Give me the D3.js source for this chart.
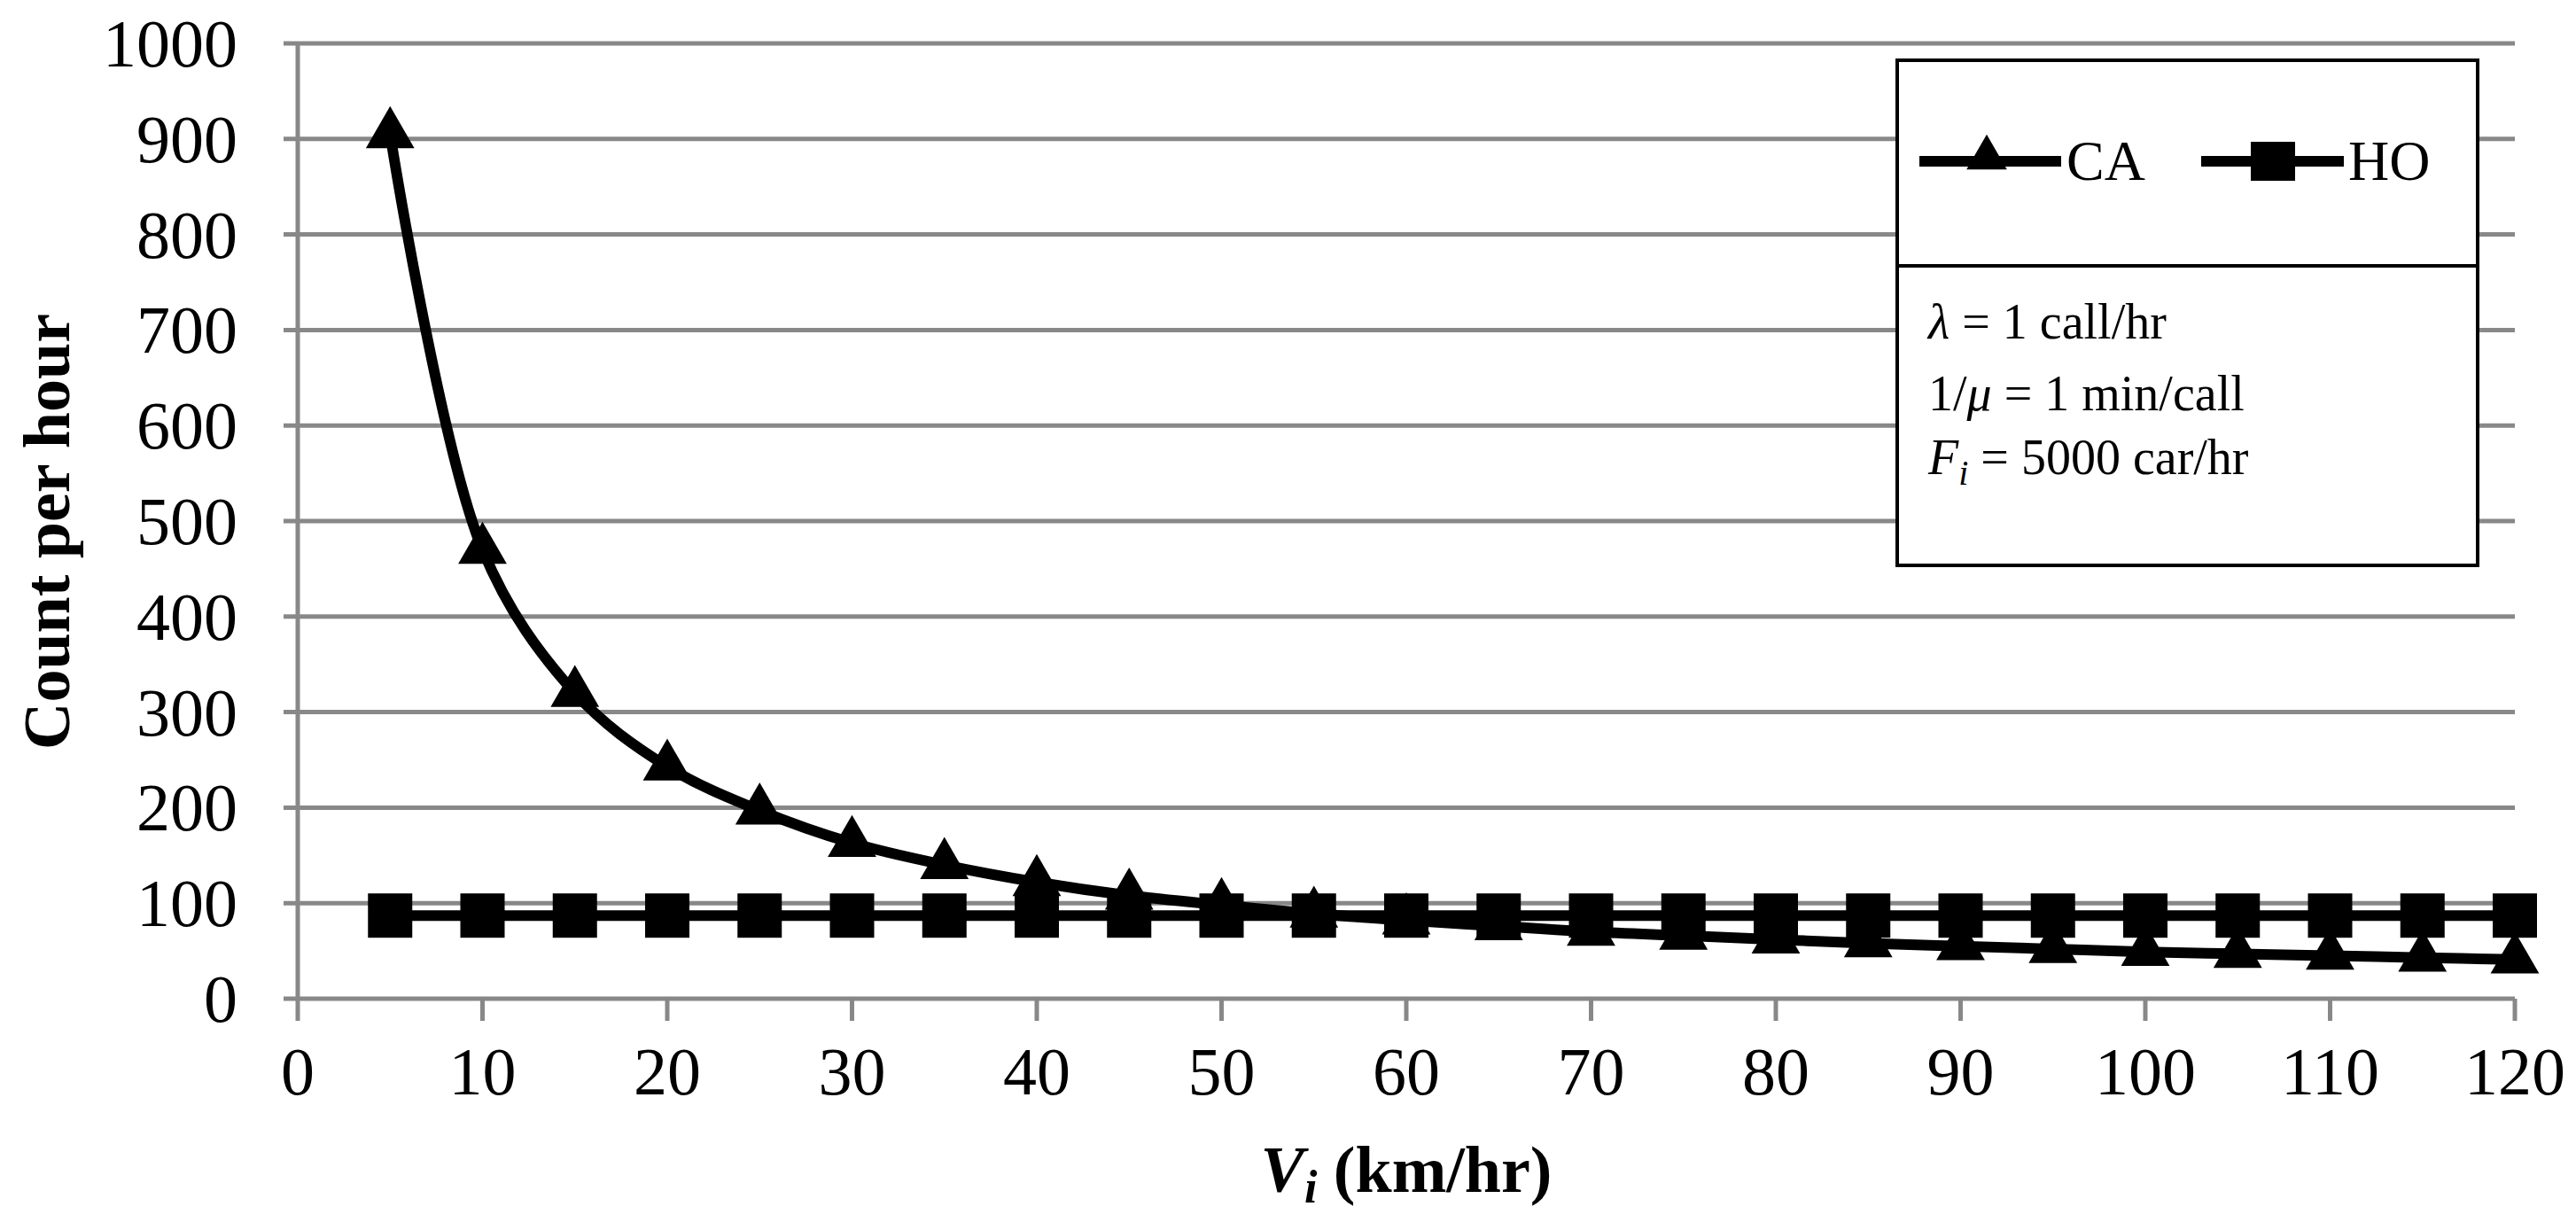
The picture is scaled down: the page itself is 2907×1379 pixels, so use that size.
<!DOCTYPE html>
<html><head><meta charset="utf-8">
<script src="https://cdn.jsdelivr.net/npm/d3@7"></script>
<style>body{margin:0;background:#fff}</style>
</head><body>
<svg id="chart" width="2907" height="1379"></svg>
<script>
const speeds = [5,10,15,20,25,30,35,40,45,50,55,60,65,70,75,80,85,90,95,100,105,110,115,120];
const caValues = [905,470,320,243,197,163,140,122,108,98,89,82,76,70,66,62,58,55,52,49,47,45,43,41];
const hoValues = speeds.map(() => 87);
const xTicks = d3.range(0, 121, 10);
const yTicks = d3.range(0, 1001, 100);

const svg = d3.select('#chart');
const x = d3.scaleLinear().domain([0, 120]).range([336, 2838]);
const y = d3.scaleLinear().domain([0, 1000]).range([1127, 49]);
const serif = 'Liberation Serif, Times New Roman, serif';
const grey = '#888';

// grid
svg.append('g').selectAll('line').data(yTicks).join('line')
  .attr('x1', x(0) - 16).attr('x2', x(120))
  .attr('y1', d => y(d)).attr('y2', d => y(d))
  .attr('stroke', grey).attr('stroke-width', 5);

// y axis line
svg.append('line').attr('x1', x(0)).attr('x2', x(0)).attr('y1', y(1000)).attr('y2', y(0))
  .attr('stroke', grey).attr('stroke-width', 5);

// x ticks
svg.append('g').selectAll('line').data(xTicks).join('line')
  .attr('x1', d => x(d)).attr('x2', d => x(d))
  .attr('y1', y(0)).attr('y2', y(0) + 25)
  .attr('stroke', grey).attr('stroke-width', 5);

svg.append('g').selectAll('text').data(xTicks).join('text')
  .attr('x', d => x(d)).attr('y', 1235)
  .attr('text-anchor', 'middle').attr('font-family', serif).attr('font-size', 76)
  .text(d => d);

svg.append('g').selectAll('text').data(yTicks).join('text')
  .attr('x', 268).attr('y', d => y(d) + 26)
  .attr('text-anchor', 'end').attr('font-family', serif).attr('font-size', 76)
  .text(d => d);

// axis titles
svg.append('text').attr('transform', 'translate(78,600) rotate(-90)')
  .attr('text-anchor', 'middle').attr('font-family', serif).attr('font-size', 74).attr('font-weight', 'bold')
  .text('Count per hour');
const xt = svg.append('text').attr('x', x(60)).attr('y', 1345)
  .attr('text-anchor', 'middle').attr('font-family', serif).attr('font-size', 74).attr('font-weight', 'bold');
xt.append('tspan').attr('font-style', 'italic').text('V');
xt.append('tspan').attr('font-style', 'italic').attr('font-size', 52).attr('dy', 12).text('i');
xt.append('tspan').attr('dy', -12).text(' (km/hr)');

// series
const line = d3.line().x(d => x(d[0])).y(d => y(d[1])).curve(d3.curveCatmullRom.alpha(0.5));
const ca = speeds.map((s, i) => [s, caValues[i]]);
const ho = speeds.map((s, i) => [s, hoValues[i]]);
const tri = d3.symbol().type(d3.symbolTriangle).size(1300);

svg.append('path').attr('d', line(ho)).attr('fill', 'none').attr('stroke', '#000').attr('stroke-width', 12);
svg.append('g').selectAll('rect').data(ho).join('rect')
  .attr('x', d => x(d[0]) - 25).attr('y', d => y(d[1]) - 25).attr('width', 50).attr('height', 50).attr('fill', '#000');
svg.append('path').attr('d', line(ca)).attr('fill', 'none').attr('stroke', '#000').attr('stroke-width', 12);
svg.append('g').selectAll('path').data(ca).join('path')
  .attr('transform', d => `translate(${x(d[0])},${y(d[1])})`).attr('d', tri).attr('fill', '#000');

// legend box
const lg = svg.append('g');
lg.append('rect').attr('x', 2141).attr('y', 68).attr('width', 655).attr('height', 570)
  .attr('fill', '#fff').attr('stroke', '#000').attr('stroke-width', 4);
lg.append('line').attr('x1', 2141).attr('x2', 2796).attr('y1', 300).attr('y2', 300)
  .attr('stroke', '#000').attr('stroke-width', 4);
lg.append('line').attr('x1', 2166).attr('x2', 2326).attr('y1', 182).attr('y2', 182).attr('stroke', '#000').attr('stroke-width', 12);
lg.append('path').attr('transform', 'translate(2242,178)').attr('d', d3.symbol().type(d3.symbolTriangle).size(900)).attr('fill', '#000');
lg.append('text').attr('x', 2332).attr('y', 203).attr('font-family', serif).attr('font-size', 64).text('CA');
lg.append('line').attr('x1', 2484).attr('x2', 2645).attr('y1', 182).attr('y2', 182).attr('stroke', '#000').attr('stroke-width', 12);
lg.append('rect').attr('x', 2540).attr('y', 160).attr('width', 50).attr('height', 44).attr('fill', '#000');
lg.append('text').attr('x', 2650).attr('y', 203).attr('font-family', serif).attr('font-size', 64).text('HO');

const notes = [
  [382, [['λ', true], [' = 1  call/hr', false]]],
  [463, [['1/', false], ['μ', true], [' = 1  min/call', false]]],
  [535, [['F', true], ['i', true, true], [' = 5000  car/hr', false]]]
];
notes.forEach(([yy, parts]) => {
  const t = lg.append('text').attr('x', 2176).attr('y', yy).attr('font-family', serif).attr('font-size', 56);
  let sub = false;
  parts.forEach(([s, it, isSub]) => {
    const ts = t.append('tspan').text(s).attr('font-style', it ? 'italic' : 'normal');
    if (isSub) { ts.attr('dy', 12).attr('font-size', 40); sub = true; }
    else if (sub) { ts.attr('dy', -12); sub = false; }
  });
});
</script>
</body></html>
